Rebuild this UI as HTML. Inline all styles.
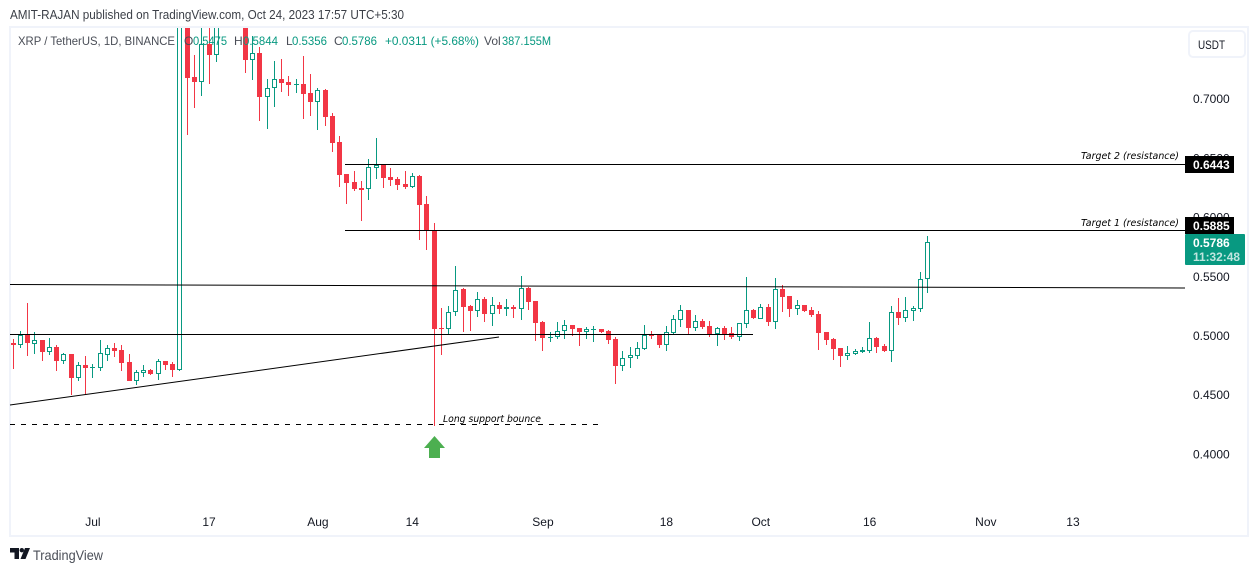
<!DOCTYPE html>
<html lang="en">
<head>
<meta charset="utf-8">
<title>XRP / TetherUS chart</title>
<style>
html,body{margin:0;padding:0;background:#fff;width:1259px;height:572px;overflow:hidden}
svg{position:absolute;left:0;top:0;display:block}
text{font-family:"Liberation Sans",sans-serif}
</style>
</head>
<body>
<svg id="chart" xmlns="http://www.w3.org/2000/svg" width="1259" height="572" viewBox="0 0 1259 572">
  <defs>
    <clipPath id="pane-clip"><rect x="11" y="28" width="1174" height="487"/></clipPath>
  </defs>
  <text x="10" y="19" font-size="12.5" fill="#3b3f47" textLength="394" lengthAdjust="spacingAndGlyphs">AMIT-RAJAN published on TradingView.com, Oct 24, 2023 17:57 UTC+5:30</text>
  <rect x="10" y="27" width="1238" height="509" fill="#fff" stroke="#F0F3FA" stroke-width="2"/>
  <g id="candles" clip-path="url(#pane-clip)"></g>
  <g id="drawings"></g>
  <text x="1081" y="159" font-size="9.5" font-style="italic" fill="#000" style='font-family:"DejaVu Sans",sans-serif' textLength="98" lengthAdjust="spacingAndGlyphs">Target 2 (resistance)</text>
  <text x="1081" y="226" font-size="9.5" font-style="italic" fill="#000" style='font-family:"DejaVu Sans",sans-serif' textLength="98" lengthAdjust="spacingAndGlyphs">Target 1 (resistance)</text>
  <text x="443" y="422" font-size="9.5" font-style="italic" fill="#000" style='font-family:"DejaVu Sans",sans-serif' textLength="98" lengthAdjust="spacingAndGlyphs">Long support bounce</text>
  <polygon points="434.5,436 445,448 440,448 440,458 429,458 429,448 424,448" fill="#4CAF50"/>

  <g font-size="12">
    <text x="18" y="45" fill="#4a4e57" textLength="157" lengthAdjust="spacingAndGlyphs">XRP / TetherUS, 1D, BINANCE</text>
    <text x="184" y="45" fill="#4a4e57">O</text>
    <text x="193" y="45" fill="#089981" textLength="34" lengthAdjust="spacingAndGlyphs">0.5475</text>
    <text x="234" y="45" fill="#4a4e57">H</text>
    <text x="243" y="45" fill="#089981" textLength="35" lengthAdjust="spacingAndGlyphs">0.5844</text>
    <text x="286" y="45" fill="#4a4e57">L</text>
    <text x="292" y="45" fill="#089981" textLength="35" lengthAdjust="spacingAndGlyphs">0.5356</text>
    <text x="334" y="45" fill="#4a4e57">C</text>
    <text x="342" y="45" fill="#089981" textLength="35" lengthAdjust="spacingAndGlyphs">0.5786</text>
    <text x="385" y="45" fill="#089981" textLength="94" lengthAdjust="spacingAndGlyphs">+0.0311 (+5.68%)</text>
    <text x="484" y="45" fill="#4a4e57">Vol</text>
    <text x="502" y="45" fill="#089981" textLength="49" lengthAdjust="spacingAndGlyphs">387.155M</text>
  </g>

  <g>
    <rect x="1189" y="31" width="56" height="26" rx="4" fill="#fff" stroke="#F0F3FA" stroke-width="2"/>
    <text x="1198" y="49" font-size="12" fill="#131722" textLength="27" lengthAdjust="spacingAndGlyphs">USDT</text>
  </g>

  <g id="price-axis"></g>
  <g id="time-axis"></g>

  <g>
    <rect x="1185" y="156" width="49" height="17" fill="#000"/>
    <text x="1193" y="169" font-size="12" font-weight="bold" fill="#fff">0.6443</text>
  </g>
  <g>
    <rect x="1185" y="217" width="49" height="17" fill="#000"/>
    <text x="1193" y="230" font-size="12" font-weight="bold" fill="#fff">0.5885</text>
  </g>
  <g>
    <rect x="1185" y="234" width="60" height="31" rx="1" fill="#089981"/>
    <text x="1193" y="247" font-size="12" font-weight="bold" fill="#fff">0.5786</text>
    <text x="1193" y="261" font-size="12" font-weight="bold" fill="#fff" fill-opacity="0.75" textLength="47" lengthAdjust="spacingAndGlyphs">11:32:48</text>
  </g>

  <g>
    <polygon points="10,548 19,548 19,559 14.5,559 14.5,552.5 10,552.5" fill="#131722"/>
    <circle cx="21.8" cy="550.2" r="2.2" fill="#131722"/>
    <polygon points="25,548 30,548 25.5,559 20.5,559" fill="#131722"/>
    <text x="33" y="560" font-size="14" fill="#4a4e57" textLength="70" lengthAdjust="spacingAndGlyphs">TradingView</text>
  </g>
</svg>
<script>
const firstDate = '2023-06-20';
const opens = [
.4937,.4920,.5004,.4928,.4962,.4861,.4903,.4785,.4844,.4641,
.4751,.4726,.4726,.4835,.4895,.4878,.4776,.4616,.4684,.4709,
.4675,.4785,.4759,.4709,.81,.7183,.7141,.7462,.7369,.77,
.80,.79,.78,.7327,.7386,.7014,.7090,.7166,.7141,.7116,
.7124,.7048,.6972,.7073,.6853,.6634,.6364,.6296,.6246,.6237,
.6415,.6449,.6339,.6322,.6279,.6254,.6347,.6111,.5891,.5063,
.5055,.5198,.5393,.5249,.5207,.5308,.5182,.5258,.5224,.5241,
.5224,.5401,.5291,.5114,.4979,.4987,.5038,.5089,.5063,.5030,
.5046,.5055,.5038,.4970,.4743,.4810,.4827,.4886,.5004,.5004,
.4920,.5021,.5131,.5215,.5063,.5122,.5080,.5013,.5063,.5021,
.4987,.5097,.5215,.5139,.5241,.5114,.5393,.5333,.5224,.5258,
.5215,.5182,.5030,.4970,.4895,.4827,.4844,.4861,.4869,.4979,
.4911,.4869,.5198,.5148,.5207,.5224,.5475];
const highs = [
.4970,.5038,.5275,.5030,.4962,.4979,.4920,.4852,.4844,.4776,
.4827,.4759,.4962,.4920,.4937,.4920,.4844,.4709,.4751,.4717,
.4802,.4785,.4776,.93,.86,.7369,.775,.78,.80,.82,
.83,.82,.80,.7530,.7437,.7166,.7318,.7335,.7192,.7166,
.7361,.7209,.7090,.7082,.6879,.6685,.6364,.6389,.6305,.6491,
.6668,.6449,.6415,.6339,.6389,.6372,.6355,.6178,.5950,.5232,
.5249,.5587,.5401,.5258,.5367,.5325,.5325,.5283,.5308,.5258,
.5502,.5409,.5291,.5122,.5030,.5114,.5131,.5089,.5063,.5072,
.5080,.5055,.5046,.4987,.4869,.4903,.4945,.5089,.5038,.5004,
.5080,.5173,.5258,.5215,.5173,.5139,.5122,.5072,.5080,.5072,
.5106,.5494,.5224,.5266,.5266,.5486,.5426,.5333,.5300,.5258,
.5241,.5207,.5030,.4979,.4895,.4911,.4886,.4903,.5114,.4987,
.4928,.5249,.5317,.5325,.5249,.5536,.5844];
const lows = [
.4717,.4895,.4827,.4844,.4785,.4835,.4700,.4759,.4498,.4616,
.4498,.4641,.4700,.4785,.4818,.4700,.4616,.4582,.4650,.4667,
.4624,.4709,.4650,.4700,.6693,.6921,.7022,.7124,.7310,.765,
.77,.765,.7217,.7158,.6811,.6744,.6930,.7056,.7022,.7048,
.6828,.6853,.6735,.6769,.6549,.6254,.6111,.6220,.5967,.6144,
.6322,.6246,.6262,.6229,.6237,.6246,.5807,.5722,.4236,.4835,
.5013,.5165,.5030,.5038,.5156,.5114,.5080,.5182,.5165,.5148,
.5131,.5215,.4954,.4869,.4945,.4970,.4970,.4996,.4911,.4970,
.4945,.5021,.4928,.4590,.4700,.4726,.4802,.4878,.4970,.4895,
.4869,.5004,.5072,.5004,.5038,.5055,.4987,.4911,.4962,.4970,
.4954,.5063,.5139,.5139,.5080,.5055,.5198,.5156,.5173,.5198,
.5156,.4878,.4920,.4793,.4734,.4793,.4835,.4852,.4852,.4852,
.4861,.4776,.5089,.5114,.5122,.5198,.5356];
const closes = [
.4920,.5004,.4937,.4962,.4861,.4903,.4785,.4844,.4641,.4751,
.4726,.4734,.4852,.4895,.4869,.4768,.4616,.4692,.4709,.4675,
.4785,.4751,.4709,.81,.7175,.7141,.7462,.7369,.77,.80,
.79,.78,.7327,.7386,.7014,.7090,.7166,.7133,.7116,.7124,
.7039,.6972,.7073,.6845,.6625,.6355,.6288,.6237,.6229,.6423,
.6440,.6330,.6313,.6271,.6254,.6347,.6102,.5883,.5055,.5055,
.5198,.5384,.5241,.5207,.5308,.5182,.5258,.5224,.5241,.5224,
.5401,.5283,.5106,.4979,.4987,.5038,.5089,.5055,.5030,.5055,
.5055,.5030,.4962,.4743,.4810,.4835,.4895,.5004,.4996,.4920,
.5030,.5139,.5215,.5063,.5122,.5072,.5013,.5063,.5013,.4987,
.5106,.5215,.5148,.5241,.5114,.5393,.5325,.5224,.5258,.5207,
.5173,.5021,.4962,.4886,.4827,.4852,.4869,.4878,.4979,.4903,
.4869,.5198,.5148,.5215,.5232,.5477,.5786];
const priceTicks = [0.40, 0.45, 0.50, 0.55, 0.60, 0.65, 0.70];
const timeTickDates = ['2023-07-01','2023-07-17','2023-08-01','2023-08-14','2023-09-01','2023-09-18','2023-10-01','2023-10-16','2023-11-01','2023-11-13'];
const timeTickLabels = ['Jul','17','Aug','14','Sep','18','Oct','16','Nov','13'];
const target1Price = 0.5885;
const target2Price = 0.6443;
const supportPrice = 0.4248;
const midLevelPrice = 0.5008;
const upperLinePrices = [0.5431, 0.5401];
const trendLinePrices = [0.4413, 0.4987];

const SVG_NS = 'http://www.w3.org/2000/svg';
const GREEN = '#089981';
const RED = '#F23645';
const candleLayer = document.getElementById('candles');
const drawLayer = document.getElementById('drawings');
const priceAxis = document.getElementById('price-axis');
const timeAxis = document.getElementById('time-axis');

function yScale(price) { return 335.5 + (0.5 - price) * 1184; }
function xScale(index) { return 13 + 7.26 * index; }
function dayIndex(dateText) { return Math.round((Date.parse(dateText) - Date.parse(firstDate)) / 86400000); }
function indexAtPixel(px) { return (px - 13) / 7.26; }
function make(tag, attrs) {
  const el = document.createElementNS(SVG_NS, tag);
  for (const key in attrs) { el.setAttribute(key, attrs[key]); }
  return el;
}

opens.forEach(function (open, i) {
  const close = closes[i];
  const up = close >= open;
  const color = up ? GREEN : RED;
  const cx = Math.floor(xScale(i));
  const top = Math.round(yScale(Math.max(open, close)));
  const bottom = Math.round(yScale(Math.min(open, close)));
  const wick = make('line', { x1: cx + 0.5, x2: cx + 0.5, y1: Math.round(yScale(highs[i])), y2: Math.round(yScale(lows[i])), stroke: color, 'stroke-width': 1 });
  
  
  candleLayer.appendChild(wick);
  const height = Math.max(bottom - top, 1);
  let body;
  if (up && height >= 3) {
    body = make('rect', { x: cx - 1.5, y: top + 0.5, width: 4, height: height - 1, fill: '#fff', stroke: color, 'stroke-width': 1 });
  } else {
    body = make('rect', { x: cx - 2, y: top, width: 5, height: height, fill: color });
  }
  
  
  candleLayer.appendChild(body);
});

function addLine(name, p1, p2, i1, i2, snap, dash) {
  let y1 = yScale(p1);
  let y2 = yScale(p2);
  if (snap) {
    y1 = Math.floor(y1) + 0.5;
    y2 = y1;
  }
  const line = make('line', { x1: xScale(i1), x2: xScale(i2), y1: y1, y2: y2, stroke: '#000', 'stroke-width': 1 });
  if (dash) { line.setAttribute('stroke-dasharray', dash); }
  
  
  drawLayer.appendChild(line);
}
addLine('target-2-line', target2Price, target2Price, indexAtPixel(345), indexAtPixel(1185), true);
addLine('target-1-line', target1Price, target1Price, indexAtPixel(345), indexAtPixel(1185), true);
addLine('upper-resistance-line', upperLinePrices[0], upperLinePrices[1], indexAtPixel(10), indexAtPixel(1185), false);
addLine('mid-level-line', midLevelPrice, midLevelPrice, indexAtPixel(10), indexAtPixel(753), true);
addLine('rising-trend-line', trendLinePrices[0], trendLinePrices[1], indexAtPixel(10), indexAtPixel(499), false);
addLine('long-support-dashed-line', supportPrice, supportPrice, indexAtPixel(10), indexAtPixel(599), true, '5 6');

priceTicks.forEach(function (tick) {
  const label = make('text', { x: 1193, y: yScale(tick) + 4.5, 'font-size': 12, fill: '#131722' });
  label.textContent = tick.toFixed(4);
  
  
  priceAxis.appendChild(label);
});

timeTickLabels.forEach(function (text, i) {
  const label = make('text', { x: xScale(dayIndex(timeTickDates[i])), y: 526, 'font-size': 12, fill: '#131722', 'text-anchor': 'middle' });
  label.textContent = text;
  
  
  timeAxis.appendChild(label);
});
</script>
</body>
</html>
